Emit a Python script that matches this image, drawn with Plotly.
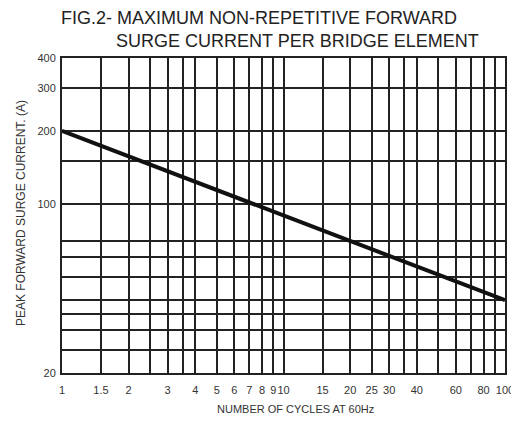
import plotly.graph_objects as go
import math

# Data
cycles = [1, 100]
surge_current = [200, 40]

x_grid = [1, 1.5, 2, 2.5, 3, 3.5, 4, 5, 6, 7, 8, 9, 10, 15, 20, 25, 30, 35, 40, 50, 60, 70, 80, 90, 100]
x_labeled = {1: "1", 1.5: "1.5", 2: "2", 3: "3", 4: "4", 5: "5", 6: "6", 7: "7", 8: "8", 9: "9",
             10: "10", 15: "15", 20: "20", 25: "25", 30: "30", 40: "40", 60: "60", 80: "80", 100: "100"}
y_grid = [20, 25, 30, 35, 40, 50, 60, 70, 100, 150, 200, 300, 400]
y_labeled = {20: "20", 100: "100", 200: "200", 300: "300", 400: "400"}

title_line1 = "FIG.2- MAXIMUM NON-REPETITIVE FORWARD"
title_line2 = "SURGE CURRENT PER BRIDGE ELEMENT"
x_title = "NUMBER OF CYCLES AT 60Hz"
y_title = "PEAK FORWARD SURGE CURRENT. (A)"

GRID = "#222222"
FONT = "Liberation Sans, Arial, sans-serif"
OFF = 8  # page body margin
W, H = 519 - OFF, 424 - OFF
L, R, T, B = 62 - OFF, 519 - 505, 58 - OFF, 424 - 373
PW, PH = W - L - R, H - T - B

def px_x(p):
    return (p - OFF - L) / PW

def px_y(p):
    return (H - B - (p - OFF)) / PH

fig = go.Figure()
fig.add_trace(go.Scatter(x=cycles, y=surge_current, mode="lines",
                         line=dict(color="#111111", width=4), showlegend=False,
                         hoverinfo="skip"))

fig.update_layout(
    width=W, height=H,
    margin=dict(l=L, r=R, t=T, b=B, autoexpand=False),
    paper_bgcolor="white", plot_bgcolor="white",
    font=dict(family=FONT, color="#333333", size=11),
    showlegend=False,
)

fig.update_xaxes(
    type="log", range=[0, 2], automargin=False,
    tickvals=x_grid, ticktext=[x_labeled.get(v, "") for v in x_grid],
    tickangle=0,
    showgrid=True, gridcolor=GRID, gridwidth=2,
    showline=True, linecolor=GRID, linewidth=2, mirror=True,
    ticks="outside", ticklen=6, tickcolor="rgba(0,0,0,0)",
    tickfont=dict(size=11, color="#333333"),
    zeroline=False,
)
fig.update_yaxes(
    type="log", range=[math.log10(20), math.log10(400)], automargin=False,
    tickvals=y_grid, ticktext=[y_labeled.get(v, "") for v in y_grid],
    showgrid=True, gridcolor=GRID, gridwidth=2,
    showline=True, linecolor=GRID, linewidth=2, mirror=True,
    ticks="outside", ticklen=2, tickcolor="rgba(0,0,0,0)",
    tickfont=dict(size=11, color="#333333"),
    zeroline=False,
)

fig.add_annotation(text=title_line1, xref="paper", yref="paper", x=px_x(59), y=px_y(18),
                   xanchor="left", yanchor="middle", showarrow=False,
                   font=dict(size=18, color="#222222", family=FONT))
fig.add_annotation(text=title_line2, xref="paper", yref="paper", x=px_x(114), y=px_y(41),
                   xanchor="left", yanchor="middle", showarrow=False,
                   font=dict(size=18, color="#222222", family=FONT))
fig.add_annotation(text=x_title, xref="paper", yref="paper", x=px_x(295), y=px_y(409),
                   xanchor="center", yanchor="middle", showarrow=False,
                   font=dict(size=11, color="#333333", family=FONT))
fig.add_annotation(text=y_title, xref="paper", yref="paper", x=px_x(21), y=px_y(213),
                   xanchor="center", yanchor="middle", showarrow=False, textangle=-90,
                   font=dict(size=12, color="#333333", family=FONT))

fig.write_html("out.html")
